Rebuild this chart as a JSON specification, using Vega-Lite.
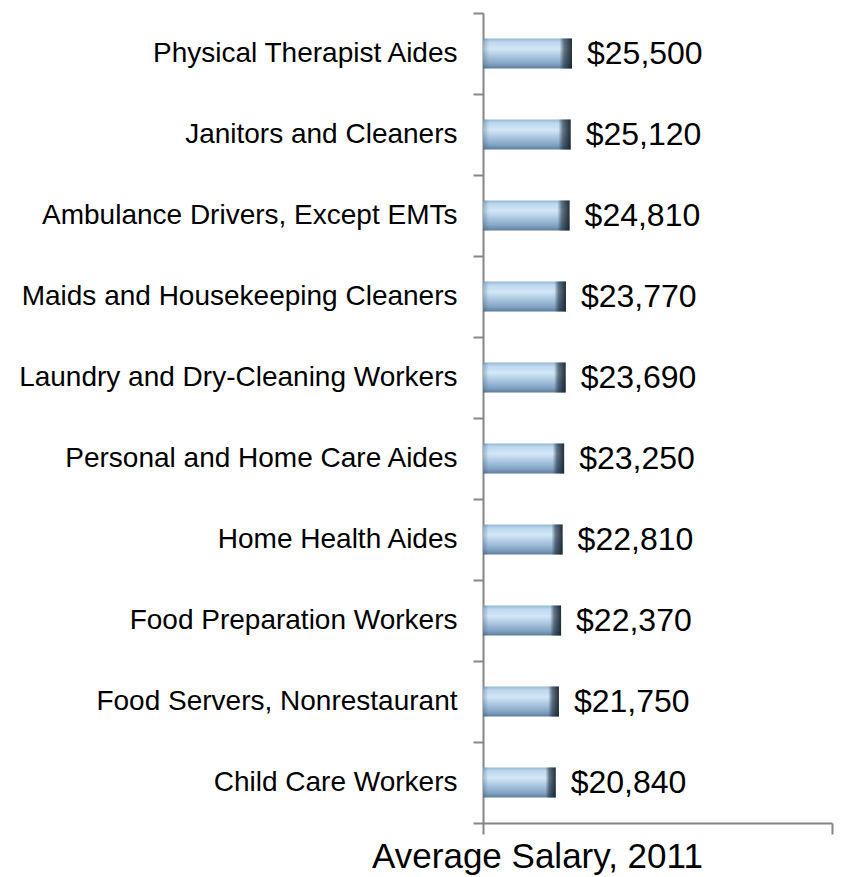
{
  "$schema": "https://vega.github.io/schema/vega-lite/v6.json",
  "width": 349,
  "height": 810,
  "autosize": {"type": "none"},
  "padding": {"left": 483, "top": 13, "right": 12, "bottom": 54},
  "background": "white",
  "config": {
    "view": {"stroke": null},
    "font": "Liberation Sans",
    "axis": {
      "domainColor": "#868686",
      "domainWidth": 2,
      "tickColor": "#868686",
      "tickWidth": 2,
      "grid": false
    }
  },
  "data": {
    "values": [
      {"job": "Physical Therapist Aides", "salary": 25500},
      {"job": "Janitors and Cleaners", "salary": 25120},
      {"job": "Ambulance Drivers, Except EMTs", "salary": 24810},
      {"job": "Maids and Housekeeping Cleaners", "salary": 23770},
      {"job": "Laundry and Dry-Cleaning Workers", "salary": 23690},
      {"job": "Personal and Home Care Aides", "salary": 23250},
      {"job": "Home Health Aides", "salary": 22810},
      {"job": "Food Preparation Workers", "salary": 22370},
      {"job": "Food Servers, Nonrestaurant", "salary": 21750},
      {"job": "Child Care Workers", "salary": 20840}
    ]
  },
  "encoding": {
    "y": {
      "field": "job",
      "type": "nominal",
      "sort": {"field": "salary", "order": "descending"},
      "scale": {"paddingInner": 0, "paddingOuter": 0},
      "axis": {
        "title": null,
        "tickBand": "extent",
        "tickSize": 10,
        "labelFontSize": 28,
        "labelColor": "#000000",
        "labelPadding": 16,
        "labelLimit": 600
      }
    },
    "x": {
      "field": "salary",
      "type": "quantitative",
      "scale": {"domain": [0, 100000], "nice": false},
      "axis": {
        "title": "Average Salary, 2011",
        "values": [0, 100000],
        "labels": false,
        "tickSize": 11,
        "titleFontSize": 35,
        "titleFontWeight": "normal",
        "titleColor": "#000000",
        "titleX": 54,
        "titleY": 44,
        "titleAlign": "center",
        "titleBaseline": "alphabetic"
      }
    }
  },
  "layer": [
    {
      "mark": {
        "type": "bar",
        "size": 30,
        "color": {
          "gradient": "linear",
          "x1": 0, "y1": 0, "x2": 0, "y2": 1,
          "stops": [
            {"offset": 0, "color": "#94b6d6"},
            {"offset": 0.12, "color": "#bcd8ee"},
            {"offset": 0.35, "color": "#d2e7f6"},
            {"offset": 0.6, "color": "#a8c6e0"},
            {"offset": 0.85, "color": "#82a2c2"},
            {"offset": 1, "color": "#5e7c9c"}
          ]
        }
      }
    },
    {
      "mark": {
        "type": "bar",
        "size": 30,
        "color": {
          "gradient": "linear",
          "x1": 0, "y1": 0, "x2": 1, "y2": 0,
          "stops": [
            {"offset": 0, "color": "rgba(60,80,100,0.35)"},
            {"offset": 0.07, "color": "rgba(60,80,100,0)"},
            {"offset": 0.86, "color": "rgba(30,45,60,0)"},
            {"offset": 0.91, "color": "rgba(30,45,60,0.6)"},
            {"offset": 1, "color": "rgba(20,30,40,0.92)"}
          ]
        }
      }
    },
    {
      "mark": {
        "type": "text",
        "align": "left",
        "baseline": "middle",
        "dx": 15,
        "fontSize": 32,
        "color": "#000000"
      },
      "encoding": {
        "text": {"field": "salary", "type": "quantitative", "format": "$,.0f"}
      }
    }
  ]
}
